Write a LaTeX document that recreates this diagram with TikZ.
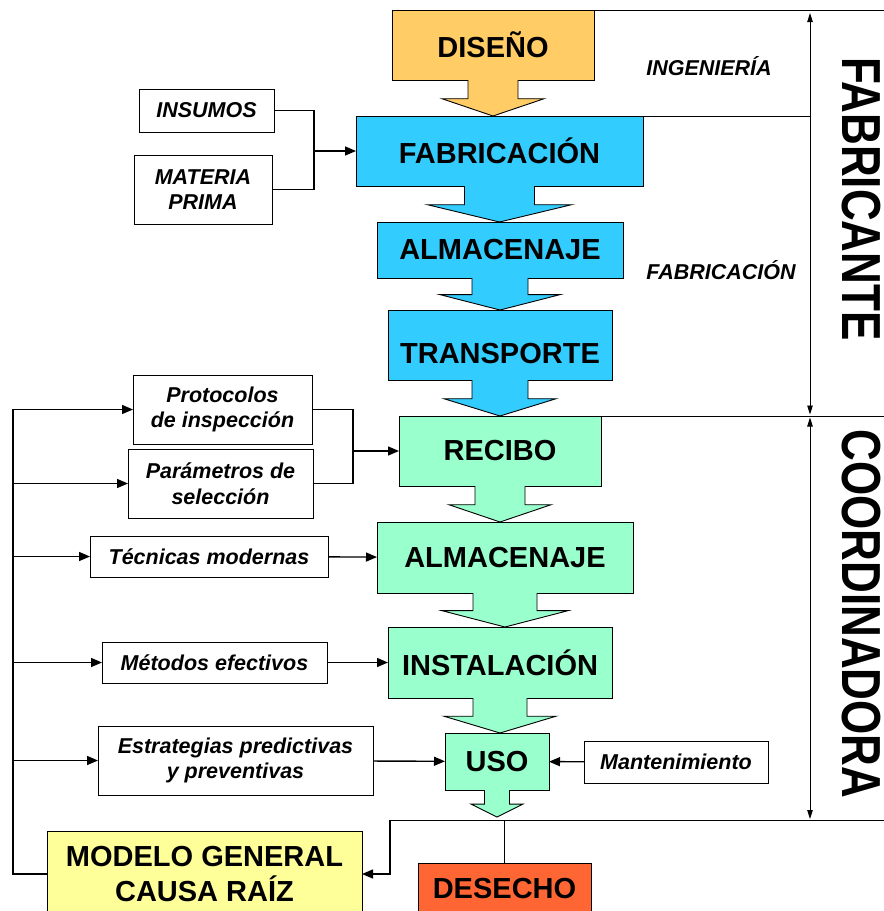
\documentclass[tikz,border=0pt]{standalone}
\usepackage{fontspec}
\setmainfont{Liberation Sans}
\usetikzlibrary{arrows, arrows.meta, calc, positioning}
\definecolor{naranja}{HTML}{FFCC66}
\definecolor{celeste}{HTML}{33CCFF}
\definecolor{verde}{HTML}{99FFCC}
\definecolor{amarillo}{HTML}{FFFF99}
\definecolor{rojizo}{HTML}{FF6633}
\tikzstyle{etapa} = [rectangle, draw=black, line width=0.9pt, inner sep=0pt, outer sep=0pt, align=center, font=\fontsize{29}{35}\selectfont\bfseries]
\tikzstyle{insumo} = [rectangle, draw=black, fill=white, line width=0.9pt, inner sep=0pt, outer sep=0pt, align=center, font=\fontsize{21.5}{25.5}\selectfont\bfseries\itshape]
\tikzstyle{nota} = [inner sep=0pt, font=\fontsize{21.5}{25.5}\selectfont\bfseries\itshape]
\tikzstyle{lado} = [inner sep=0pt, rotate=-90, font=\fontsize{55}{60}\selectfont\bfseries]
\tikzstyle{arrow} = [line width=1.4pt,-{Triangle[length=11pt,width=9pt]}]
\tikzstyle{rama} = [line width=1.4pt]
\tikzstyle{cota} = [line width=0.9pt,{Triangle[length=9pt,width=5.5pt]}-{Triangle[length=9pt,width=5.5pt]}]
\tikzstyle{linea} = [line width=0.9pt]
% flecha gruesa bajo una etapa: #1 origen, #2 punta, #3 medio tallo, #4 media cabeza, #5 color
\newcommand{\flechabloque}[5]{%
  \coordinate (fb-t) at (#1.south |- #2);
  \coordinate (fb-n) at ($(#1.south)!0.52!(fb-t)$);
  \fill[#5] ($(#1.south)+(-#3,-1.2)$) |- ($(fb-n)+(-#4,0)$) -- (fb-t) -- ($(fb-n)+(#4,0)$) -| ($(#1.south)+(#3,-1.2)$) -- cycle;
  \draw[linea] ($(#1.south)+(-#3,0)$) |- ($(fb-n)+(-#4,0)$) -- (fb-t) -- ($(fb-n)+(#4,0)$) -| ($(#1.south)+(#3,0)$);
}

\begin{document}
\begin{tikzpicture}[x=1pt, y=-1pt]
	\useasboundingbox (0,0) rectangle (884,911);
	% etapas del fabricante
	\node (Diseno) [etapa, fill=naranja, minimum width=202, minimum height=70] at (493,45) {DISEÑO};
	\node (Fabricacion) [etapa, fill=celeste, minimum width=287, minimum height=70] at (499.5,151) {FABRICACIÓN};
	\node (AlmacenajeF) [etapa, fill=celeste, minimum width=246, minimum height=56] at (500,250) {ALMACENAJE};
	\node (Transporte) [etapa, fill=celeste, minimum width=224, minimum height=70] at (500,345) {\raisebox{-18pt}[0pt][0pt]{TRANSPORTE}};
	% etapas de la coordinadora
	\node (Recibo) [etapa, fill=verde, minimum width=202, minimum height=70] at (500,451) {RECIBO};
	\node (AlmacenajeC) [etapa, fill=verde, minimum width=256, minimum height=71] at (505,557.5) {ALMACENAJE};
	\node (Instalacion) [etapa, fill=verde, minimum width=224, minimum height=71] at (500,662.5) {INSTALACIÓN};
	\node (Uso) [etapa, fill=verde, minimum width=104, minimum height=57] at (497,761.5) {USO};
	\node (Desecho) [etapa, fill=rojizo, minimum width=173, minimum height=52] at (504.5,889) {DESECHO};
	\node (Modelo) [etapa, fill=amarillo, minimum width=315, minimum height=86] at (204.5,874) {MODELO GENERAL\\CAUSA RAÍZ};
	\coordinate (UsoFin) at (497,817);
	% flechas gruesas
	\flechabloque{Diseno}{Fabricacion.north}{25}{51}{naranja}
	\flechabloque{Fabricacion}{AlmacenajeF.north}{35}{72}{celeste}
	\flechabloque{AlmacenajeF}{Transporte.north}{28}{60}{celeste}
	\flechabloque{Transporte}{Recibo.north}{28}{56}{celeste}
	\flechabloque{Recibo}{AlmacenajeC.north}{25}{51}{verde}
	\flechabloque{AlmacenajeC}{Instalacion.north}{32}{63}{verde}
	\flechabloque{Instalacion}{Uso.north}{27}{56}{verde}
	\flechabloque{Uso}{UsoFin}{12.5}{26}{verde}
	% entradas
	\node (Insumos) [insumo, minimum width=135, minimum height=43] at (206.5,110.5) {INSUMOS};
	\node (Materia) [insumo, minimum width=138, minimum height=69] at (203,189.5) {MATERIA\\PRIMA};
	\node (Protocolos) [insumo, minimum width=179, minimum height=69] at (222.5,409.5) {Protocolos\\de inspección};
	\node (Parametros) [insumo, minimum width=185, minimum height=69] at (220.5,483.5) {Parámetros de\\selección};
	\node (Tecnicas) [insumo, minimum width=238, minimum height=41] at (209,556.5) {Técnicas modernas};
	\node (Metodos) [insumo, minimum width=225, minimum height=41] at (214.5,662.5) {Métodos efectivos};
	\node (Estrategias) [insumo, minimum width=275, minimum height=69] at (235.5,760.5) {Estrategias predictivas\\y preventivas};
	\node (Mantenimiento) [insumo, minimum width=184, minimum height=42] at (676,762) {Mantenimiento};
	% textos laterales
	\node (Ingenieria) [nota] at (709,66) {INGENIERÍA};
	\node (FabNota) [nota] at (721,270) {FABRICACIÓN};
	\node (Fabricante) [lado] at (861,199) {\scalebox{0.8}[1]{FABRICANTE}};
	\node (Coordinadora) [lado] at (861,614) {\scalebox{0.8}[1]{COORDINADORA}};
	% divisiones
	\coordinate (UnionA) at (314,151);
	\coordinate (UnionB) at (353,451);
	\coordinate (Bus) at (13,409.5);
	\coordinate (Bajo) at (390,820);
	\coordinate (EjeTop) at (810,13);
	\coordinate (EjeMid) at (810,416);
	\coordinate (EjeBot) at (810,819);
	\draw [linea] (Diseno.north west) -- (884,10);
	\draw [linea] (Fabricacion.north west) -- (EjeMid |- Fabricacion.north);
	\draw [linea] (Recibo.north west) -- (884,416);
	\draw [linea] (Bajo) -- (884,820);
	\draw [cota] (EjeTop) -- ([yshift=1.5pt]EjeMid);
	\draw [cota] ([yshift=-1.5pt]EjeMid) -- (EjeBot);
	% conectores
	\draw [arrow] (Insumos.east) -| (UnionA) -- (Fabricacion.west);
	\draw [rama] (Materia.east) -| (UnionA);
	\draw [arrow] (Protocolos.east) -| (UnionB) -- (Recibo.west);
	\draw [rama] (Parametros.east) -| (UnionB);
	\draw [arrow] (Tecnicas) -- (AlmacenajeC);
	\draw [arrow] (Metodos) -- (Instalacion);
	\draw [arrow] (Estrategias) -- (Uso);
	\draw [arrow] (Mantenimiento) -- (Uso);
	\draw [arrow] (Modelo.west) -| (Bus) -- (Protocolos.west);
	\draw [arrow] (Bus |- Parametros.west) -- (Parametros.west);
	\draw [arrow] (Bus |- Tecnicas.west) -- (Tecnicas.west);
	\draw [arrow] (Bus |- Metodos.west) -- (Metodos.west);
	\draw [arrow] (Bus |- Estrategias.west) -- (Estrategias.west);
	\draw [arrow] (Bajo) |- (Modelo.east);
	\draw [linea] (Desecho.north) -- (Desecho.north |- Bajo);
\end{tikzpicture}
\end{document}
